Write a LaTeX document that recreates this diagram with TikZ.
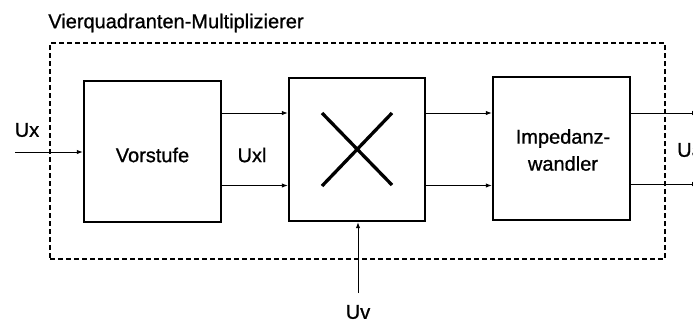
\documentclass[tikz,border=0pt]{standalone}
\usepackage{fontspec}
\setmainfont{Liberation Sans}
\newfontfamily\lblfont[FakeBold=0.9]{Liberation Sans}
\usetikzlibrary{arrows.meta}
\begin{document}
\begin{tikzpicture}[x=1pt,y=-1pt,
  blk/.style={draw,line width=2.4pt,inner sep=0pt},
  lbl/.style={font=\fontsize{20}{23}\lblfont,inner sep=0pt},
  arr/.style={line width=1pt,-{Latex[length=6pt,width=4.5pt]}},
  frm/.style={draw,dashed,line width=1.3pt,dash pattern=on 5pt off 3pt,inner sep=0pt}]
\useasboundingbox (0,0) rectangle (693,322);
\node[frm,minimum width=615pt,minimum height=216pt] (frame) at (357.5,151) {};
\node[lbl] (title) at (176,23) {Vierquadranten-Multiplizierer};
\node[blk,minimum width=137pt,minimum height=141pt] (vor) at (152.5,151.5) {};
\node[lbl] (vort) at (152.5,155) {Vorstufe};
\node[blk,minimum width=136pt,minimum height=143pt] (mul) at (357,149.5) {};
\node[blk,minimum width=137pt,minimum height=143pt] (imp) at (561.5,148.5) {};
\node[lbl,align=center] (impt) at (563,150) {Impedanz-\\[4pt]wandler};
\coordinate (up) at (0,113);
\coordinate (lo) at (0,185.5);
\coordinate (uxs) at (15,152);
\coordinate (uvs) at (358,293);
\coordinate (o1) at (698,113);
\coordinate (o2) at (698,184);
\coordinate (xa) at (322,113);
\coordinate (xb) at (392,185);
\coordinate (xc) at (322,186);
\coordinate (xd) at (392,113);
\draw[line width=3.3pt] (xa) -- (xb);
\draw[line width=3.3pt] (xc) -- (xd);
\draw[arr] (uxs) -- (vor.west |- uxs);
\draw[arr] (vor.east |- up) -- (mul.west |- up);
\draw[arr] (vor.east |- lo) -- (mul.west |- lo);
\draw[arr] (mul.east |- up) -- (imp.west |- up);
\draw[arr] (mul.east |- lo) -- (imp.west |- lo);
\draw[arr] (imp.east |- o1) -- (o1);
\draw[arr] (imp.east |- o2) -- (o2);
\draw[arr] (uvs) -- (uvs |- mul.south);
\node[lbl] (ux) at (27,130) {Ux};
\node[lbl] (uxl) at (252,155) {Uxl};
\node[lbl] (uv) at (358,312) {Uv};
\node[lbl,anchor=west] (ua) at (677,150) {Ua};
\end{tikzpicture}
\end{document}
